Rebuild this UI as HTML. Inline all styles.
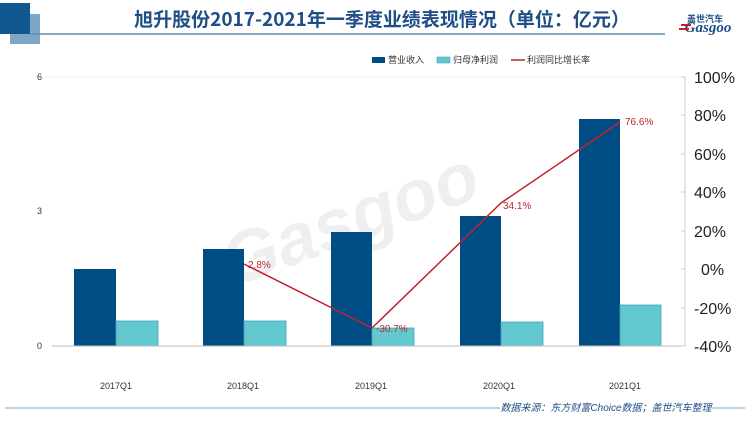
<!DOCTYPE html>
<html><head><meta charset="utf-8"><style>
body{margin:0;background:#fff;width:750px;height:420px;overflow:hidden;font-family:"Liberation Sans","Noto Sans CJK SC",sans-serif}
</style></head><body>
<svg width="750" height="420" xmlns="http://www.w3.org/2000/svg" font-family="Liberation Sans, Noto Sans CJK SC, sans-serif">
<rect x="10" y="14" width="30" height="30" fill="#7fa6c6"/>
<rect x="0" y="3" width="30" height="31" fill="#0f5791"/>
<line x1="30" y1="34" x2="665" y2="34" stroke="#5f8fb4" stroke-width="1.5"/>
<text x="382" y="26" text-anchor="middle" font-size="19" font-weight="bold" fill="#1f4e86" font-family="Noto Sans CJK SC, sans-serif">旭升股份2017-2021年一季度业绩表现情况（单位：亿元）</text>
<text x="705" y="22" text-anchor="middle" font-size="9" font-weight="bold" fill="#1f4e86" font-family="Noto Sans CJK SC, sans-serif">盖世汽车</text>
<text x="708" y="32" text-anchor="middle" font-size="15" font-style="italic" font-weight="bold" fill="#1f4e86" font-family="Liberation Serif, serif">Gasgoo</text>
<rect x="681" y="24" width="10" height="2" fill="#c8202a"/><rect x="679" y="28" width="10" height="2" fill="#c8202a"/>
<text x="215" y="250" font-size="72" fill="#000" opacity="0.06" font-style="italic" font-weight="bold" transform="rotate(-20 330 220)">Gasgoo</text>
<rect x="372" y="57" width="13" height="6" fill="#004d86"/>
<text x="388" y="63" font-size="9" fill="#333">营业收入</text>
<rect x="437" y="57" width="13" height="6" fill="#63c6cf" stroke="#3aa9c0" stroke-width="0.6"/>
<text x="453" y="63" font-size="9" fill="#333">归母净利润</text>
<line x1="511" y1="60" x2="525" y2="60" stroke="#c0232e" stroke-width="1.5"/>
<text x="527" y="63" font-size="9" fill="#333">利润同比增长率</text>
<line x1="37" y1="77" x2="683" y2="77" stroke="#f2f2f2"/>
<text x="42" y="80" text-anchor="end" font-size="9" fill="#333">6</text>
<text x="42" y="214" text-anchor="end" font-size="9" fill="#333">3</text>
<text x="42" y="349" text-anchor="end" font-size="9" fill="#333">0</text>
<g fill="#004d86">
<rect x="74" y="269" width="42" height="77"/>
<rect x="203" y="249" width="41" height="97"/>
<rect x="331" y="232" width="41" height="114"/>
<rect x="460" y="216" width="41" height="130"/>
<rect x="579" y="119" width="41" height="227"/>
</g>
<g fill="#63c8cf" stroke="#3aa9c0" stroke-width="0.8">
<rect x="116" y="321" width="42" height="25"/>
<rect x="244" y="321" width="42" height="25"/>
<rect x="372" y="328" width="42" height="18"/>
<rect x="501" y="322" width="42" height="24"/>
<rect x="620" y="305" width="41" height="41"/>
</g>
<line x1="52" y1="346" x2="685" y2="346" stroke="#bbb"/>
<line x1="685" y1="77" x2="685" y2="346" stroke="#ccc"/>
<g stroke="#ccc">
<line x1="681" y1="77" x2="685" y2="77"/><line x1="681" y1="115" x2="685" y2="115"/><line x1="681" y1="154" x2="685" y2="154"/><line x1="681" y1="192" x2="685" y2="192"/><line x1="681" y1="231" x2="685" y2="231"/><line x1="681" y1="269" x2="685" y2="269"/><line x1="681" y1="308" x2="685" y2="308"/><line x1="681" y1="346" x2="685" y2="346"/>
</g>
<g font-size="16" fill="#222">
<text x="694" y="83">100%</text><text x="694" y="121">80%</text><text x="694" y="160">60%</text><text x="694" y="198">40%</text><text x="694" y="237">20%</text><text x="701" y="275">0%</text><text x="694" y="314">-20%</text><text x="694" y="352">-40%</text>
</g>
<g font-size="9" fill="#333" text-anchor="middle">
<text x="116" y="389">2017Q1</text><text x="243" y="389">2018Q1</text><text x="371" y="389">2019Q1</text><text x="499" y="389">2020Q1</text><text x="625" y="389">2021Q1</text>
</g>
<polyline points="244,264 372,328 501,203 620,122" fill="none" stroke="#c0232e" stroke-width="1.5"/>
<g font-size="10" fill="#c0232e">
<text x="248" y="268">2.8%</text><text x="376" y="332">-30.7%</text><text x="503" y="209">34.1%</text><text x="625" y="125">76.6%</text>
</g>
<line x1="5" y1="408" x2="500" y2="408" stroke="#7fa6c6"/>
<line x1="712" y1="408" x2="745" y2="408" stroke="#7fa6c6"/>
<text x="606" y="411" text-anchor="middle" font-size="10" font-style="italic" fill="#1f4e86">数据来源：东方财富Choice数据；盖世汽车整理</text>
</svg>
</body></html>
